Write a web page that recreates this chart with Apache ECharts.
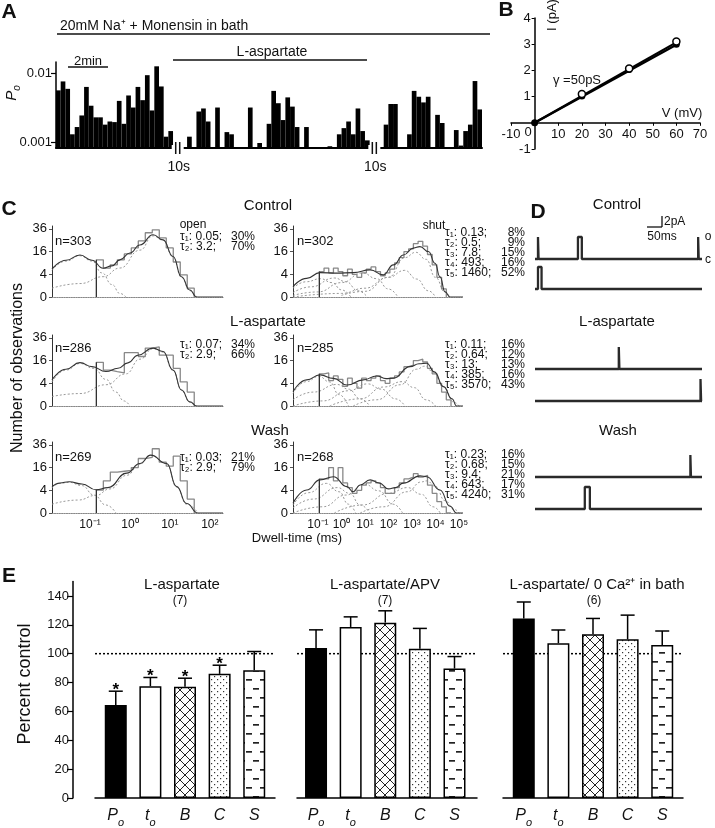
<!DOCTYPE html>
<html>
<head>
<meta charset="utf-8">
<script src="https://cdn.jsdelivr.net/npm/echarts@6.0.0/dist/echarts.min.js"></script>
<style>
html,body{margin:0;padding:0;background:#fff;}
#chart{width:715px;height:828px;}
</style>
</head>
<body>
<div id="chart"></div>
<script>
// ================= DATA =================
// Panel A: open probability in consecutive bins (0 = no opening in bin)
const poSeg1 = [0.0057,0.0077,0.0060,0.0013,0.00166,0.00245,0.0064,0.0034,0.0023,0.0023,0.0018,0.0020,0.00196,0.0040,0.00185,0.0048,0.0032,0.0064,0.0041,0.0095,0.0029,0.0128,0.0065,0.0012,0.00145];
const poSeg2 = [0,0.0012,0,0.0028,0.0031,0.0020,0,0.0032,0,0.0014,0.0013,0,0,0,0.0032,0,0.00097,0,0.00185,0.0056,0.0037,0.0021,0.0045,0.0033,0.00166,0,0.00166,0,0,0,0,0.00087,0,0.0013,0.0016,0.0020,0.0013,0.0031,0.00145,0.00106];
const poSeg3 = [0,0.0018,0.0036,0.0036,0,0,0.0013,0.0056,0.0046,0.0038,0.0046,0,0.0025,0.0019,0,0,0.0015,0.00089,0.00145,0.0018,0.0078,0.0030];
const poBreakBins = 2;
const poAxisMin = 0.00082, poAxisMax = 0.0148;
const poTickValues = [0.001, 0.01];
const poTickLabels = ['0.001', '0.01'];

// Panel B: I-V relation
const ivVoltage = [0, 20, 40, 60];
const ivOpenCurrent = [0, 1.1, 2.07, 3.1];
const ivFilledCurrent = [0, 1.02, 2.03, 3.0];
const ivFitOpenEnd = [60, 3.07];
const ivFitFilledEnd = [60, 2.98];

// Panel C: dwell-time histograms (x = log10 ms, y = count)
const openBinW = 0.175, shutBinW = 0.2;
const ctlOpenStart = -0.84;
const ctlOpenCounts = [10.7,6.5,8,10.7,14.4,18.7,24.4,32,35,27,18.7,9.5,3.8,0.6];
const ctlOpenFit = [[-1.95,6.0],[-1.6,10.5],[-1.25,13.7],[-0.95,10.5],[-0.67,6.4],[-0.45,7.5],[-0.25,10.7],[0.0,15],[0.25,21],[0.58,30],[0.83,25.3],[1.08,12.7],[1.29,3.2],[1.5,0.38],[1.67,0],[2.33,0]];
const ctlOpenC1 = [[-1.95,5.5],[-1.6,10],[-1.25,13.2],[-0.95,10],[-0.7,4.5],[-0.45,1.2],[-0.25,0.1],[-0.1,0]];
const ctlOpenC2 = [[-1.95,0.6],[-1.25,1.4],[-0.67,3.2],[-0.25,6.5],[0.25,17],[0.58,29],[0.83,25],[1.08,12.5],[1.29,3],[1.5,0.3],[1.67,0]];

const laOpenStart = -0.84;
const laOpenCounts = [14.8,10,9.2,8.5,22,22,19,26,27,20,20,11,4.5,1.5];
const laOpenFit = [[-1.95,5.3],[-1.6,10.5],[-1.25,14.6],[-0.95,12],[-0.6,9.2],[-0.3,11],[-0.05,14.4],[0.2,20],[0.58,26],[0.83,23],[1.08,10],[1.29,2],[1.5,0.14],[1.67,0],[2.33,0]];
const laOpenC1 = [[-1.95,4.5],[-1.6,10],[-1.25,14],[-0.9,11],[-0.6,5.5],[-0.35,1.5],[-0.15,0.2],[0,0]];
const laOpenC2 = [[-1.95,0.7],[-1.25,1.2],[-0.6,3.5],[-0.1,8],[0.25,17],[0.58,25.5],[0.83,22.5],[1.08,9.8],[1.29,2],[1.5,0.1],[1.67,0]];

const waOpenStart = -0.84;
const waOpenCounts = [4.1,8,13,13.5,14,16,23,24,32,20,17,25,8,1.5];
const waOpenFit = [[-1.95,5.4],[-1.75,7],[-1.52,7.6],[-1.2,6.5],[-0.85,4.2],[-0.55,5],[-0.08,12.3],[0.25,19],[0.52,26],[0.92,19],[1.17,5.4],[1.42,0.7],[1.7,0],[2.33,0]];
const waOpenC1 = [[-1.95,5],[-1.75,6.8],[-1.52,7.3],[-1.2,5.8],[-0.9,2.5],[-0.6,0.5],[-0.35,0]];
const waOpenC2 = [[-1.95,0.6],[-1.3,1.3],[-0.85,2.4],[-0.5,4.5],[-0.08,11],[0.25,18.5],[0.52,25.7],[0.92,19],[1.17,5.3],[1.42,0.6],[1.7,0]];

const ctlShutStart = -0.94;
const ctlShutCounts = [5,6.5,4.5,6.5,5,3.5,6,4,3,4.5,6,7,5,3.5,4.5,6,9,12,16,18,22,24,20,14,8,3,0.5];
const ctlShutFit = [[-2.06,0.83],[-1.48,2.7],[-0.91,4.6],[-0.2,4.4],[0.51,4.6],[1.22,5.7],[1.78,3.8],[2.21,8],[2.64,13.7],[3.06,18.5],[3.34,19.7],[3.7,16],[3.98,8.8],[4.19,3.2],[4.41,0.2],[4.62,0],[5.17,0]];
const ctlShutComps = [
  [[-2.06,0.6],[-1.5,1.8],[-0.89,2.6],[-0.4,1.6],[0,0.4],[0.4,0]],
  [[-2.06,0.15],[-1.3,0.8],[-0.3,2.8],[0.2,1.8],[0.7,0.3],[1.1,0]],
  [[-2.06,0.02],[-1,0.2],[0,1.6],[0.89,4.5],[1.5,2.6],[2.0,0.5],[2.4,0]],
  [[-2.06,0],[0,0.1],[1,0.6],[2,3],[2.69,5.5],[3.2,2.5],[3.7,0.3],[4,0]],
  [[0,0.02],[1,0.25],[2,3],[2.7,12],[3.16,15.5],[3.6,11],[4,3],[4.4,0.2],[4.6,0]]
];

const laShutStart = -0.94;
const laShutCounts = [8,8.5,5,7,5.5,3,6,4,2.5,6,5,6,7,5,4,6,7,9,12,13,16,17,15,11,8,4,1.5,0.3];
const laShutFit = [[-2.06,1.6],[-1.48,5.3],[-0.91,7.5],[-0.34,5.9],[0.23,3.4],[0.93,5.3],[1.5,7],[1.9,5.8],[2.21,6],[2.92,12],[3.3,13.8],[3.63,14.2],[3.95,9],[4.34,2.9],[4.7,0.4],[4.9,0],[5.17,0]];
const laShutComps = [
  [[-2.06,1.2],[-1.5,4.6],[-0.96,6.8],[-0.5,4.5],[-0.1,1],[0.3,0]],
  [[-2.06,0.3],[-1.2,1.5],[-0.19,3.6],[0.3,2.2],[0.8,0.4],[1.2,0]],
  [[-2.06,0],[-0.8,0.2],[0.3,1.8],[1.11,3.8],[1.7,2.2],[2.3,0.4],[2.7,0]],
  [[-0.5,0],[0.8,0.4],[1.8,2.8],[2.59,4.6],[3.1,2.6],[3.6,0.3],[4,0]],
  [[0.5,0],[1.5,0.3],[2.5,3.5],[3.2,10.5],[3.55,12.3],[3.9,9],[4.34,2.8],[4.8,0.1],[5,0]]
];

const waShutStart = -0.94;
const waShutCounts = [9,9,16,8,16,7,5,3,4,6,7,8,7,5,3,3,5,7,9,10,12,10,11,6,3,1,0.3,0];
const waShutFit = [[-2.06,0.75],[-1.48,4.1],[-0.91,8.5],[-0.34,10.2],[0.23,5.4],[0.5,3.5],[0.8,6.1],[1.22,8.5],[1.6,7],[2.0,4.5],[2.3,5],[2.63,6.9],[3.34,10.7],[3.63,10.2],[4.19,4.1],[4.62,0.35],[4.9,0],[5.17,0]];
const waShutComps = [
  [[-2.06,0.5],[-1.4,3.2],[-0.64,6.8],[-0.1,3.5],[0.3,0.6],[0.6,0]],
  [[-2.06,0.2],[-1.2,1.5],[-0.17,5],[0.35,3],[0.8,0.5],[1.2,0]],
  [[-2.06,0],[-0.8,0.3],[0.2,2.5],[0.97,6.5],[1.6,3.8],[2.2,0.6],[2.6,0]],
  [[-0.3,0],[0.9,0.5],[2,3],[2.81,5],[3.4,2.7],[3.9,0.3],[4.2,0]],
  [[0.8,0],[1.8,0.3],[2.8,3.5],[3.4,7.5],[3.63,8],[4.0,5.5],[4.4,1.2],[4.8,0.1],[5.0,0]]
];
const histYTicks = [0, 4, 16, 36];
const openXTicks = [-1, 0, 1, 2];
const shutXTicks = [-1, 0, 1, 2, 3, 4, 5];

// Panel D: single-channel openings [start ms, end ms]
const traceDuration = 560;
const traceAmp = 4;
const ctlTrace1 = [[10,12],[144,157],[547,549]];
const ctlTrace2 = [[10,22]];
const laTrace1 = [[281,283]];
const laTrace2 = [[555,557]];
const waTrace1 = [[521,523]];
const waTrace2 = [[167,184]];

// Panel E: percent of control (mean, +SEM)
const eCategories = ['Po','to','B','C','S'];
const eLaspMean = [64.4,77.4,77,86,88.5];
const eLaspErr = [9.6,6.1,6,6,13];
const eLaspStar = [1,1,1,1,0];
const eApvMean = [104,118.5,121.5,103.4,89.7];
const eApvErr = [12.5,7,8.2,14.1,8.3];
const eCaMean = [124.4,107.3,113.4,110,106];
const eCaErr = [11.4,9.1,11,16.7,9.7];
const eRefValue = 100;
const eTicks = [0,20,40,60,80,100,120,140];

// ================= BUILD =================
const FONT = '"Liberation Sans", Arial, Helvetica, sans-serif';
const grids = [], xAxes = [], yAxes = [], series = [], G = [];
function addGrid(g, xa, ya) {
  grids.push(g); const i = grids.length - 1;
  xAxes.push(Object.assign({gridIndex: i}, xa));
  yAxes.push(Object.assign({gridIndex: i}, ya));
  return i;
}
function T(x, y, text, size, o = {}) {
  const st = {text, fill: o.color || '#111',
    font: `${o.italic ? 'italic ' : ''}${o.bold ? 'bold ' : ''}${size}px ${FONT}`,
    align: o.align || 'center', verticalAlign: o.va || 'middle',
    textAlign: o.align || 'center', textVerticalAlign: o.va || 'middle'};
  if (o.rich) st.rich = o.rich;
  if (o.lineHeight) st.lineHeight = o.lineHeight;
  G.push({type: 'text', x, y, rotation: o.rot || 0, style: st, z: 50, silent: true});
}
function L(x1, y1, x2, y2, w = 1.5, c = '#111') {
  G.push({type: 'line', shape: {x1, y1, x2, y2}, style: {stroke: c, lineWidth: w}, z: 50, silent: true});
}
function R(x, y, w, h, fill) {
  G.push({type: 'rect', shape: {x, y, width: w, height: h}, style: {fill}, z: 49, silent: true});
}
const noSplit = {show: false};

// ----- Panel A -----
const poGap = new Array(poBreakBins).fill(0);
const poAll = [].concat(poSeg1, poGap, poSeg2, poGap, poSeg3);
const poBase = Math.log10(poAxisMin);
const poTickPos = poTickValues.map(v => Math.log10(v) - poBase);
const A = {left: 56, top: 62, width: 426, height: 86};
const gA = addGrid(A,
  {type: 'category', data: poAll.map((_, i) => i), boundaryGap: true,
   axisLine: {show: true, lineStyle: {color: '#000', width: 2}}, axisTick: {show: false}, axisLabel: {show: false}},
  {type: 'value', min: 0, max: Math.log10(poAxisMax) - poBase, splitLine: noSplit,
   axisLine: {show: true, lineStyle: {color: '#000', width: 1.5}},
   axisTick: {show: true, customValues: poTickPos, length: 5, lineStyle: {color: '#000', width: 1.2}},
   axisLabel: {customValues: poTickPos, fontSize: 13, fontFamily: FONT, color: '#111', margin: 4,
     formatter: v => { let b = 0; poTickPos.forEach((p, i) => { if (Math.abs(p - v) < Math.abs(poTickPos[b] - v)) b = i; }); return poTickLabels[b]; }}});
series.push({type: 'bar', xAxisIndex: gA, yAxisIndex: gA, barCategoryGap: '0%', barWidth: '100%',
  itemStyle: {color: '#000'}, silent: true,
  data: poAll.map(v => v > 0 ? Math.log10(v) - poBase : null)});
// break marks
const binW = A.width / poAll.length;
[poSeg1.length + poBreakBins / 2, poSeg1.length + poBreakBins + poSeg2.length + poBreakBins / 2].forEach(idx => {
  const x = A.left + idx * binW;
  R(x - 6, A.top + A.height - 3, 12, 6, '#fff');
  L(x - 2, A.top + A.height - 6, x - 2, A.top + A.height + 6, 1.5);
  L(x + 2, A.top + A.height - 6, x + 2, A.top + A.height + 6, 1.5);
  T(x + 1, 167, '10s', 14);
});
T(9, 12, 'A', 21, {bold: true});
T(60, 26, '20mM Na⁺ + Monensin in bath', 14, {align: 'left'});
L(57, 34, 490, 34, 1.5);
T(272, 52, 'L-aspartate', 14);
L(173, 60, 367, 60, 1.5);
T(88, 61, '2min', 13);
L(68, 67, 108, 67, 1.5);
T(12, 93, '{p|P}{s|o}', 14, {rot: Math.PI / 2, rich: {
  p: {fontSize: 15, fontStyle: 'italic', fontFamily: FONT, lineHeight: 15, verticalAlign: 'top'},
  s: {fontSize: 10, fontStyle: 'italic', fontFamily: FONT, lineHeight: 10, padding: [8, 0, 0, 0], verticalAlign: 'top'}}});

// ----- Panel B -----
const B = {left: 511, top: 18, width: 189, height: 131, xMin: -10, xMax: 70, yMin: -1, yMax: 4};
const bZeroDy = B.height * (0 - B.yMin) / (B.yMax - B.yMin);
const bZeroDx = B.width * (0 - B.xMin) / (B.xMax - B.xMin);
const gB = addGrid({left: B.left, top: B.top, width: B.width, height: B.height},
  {type: 'value', min: B.xMin, max: B.xMax, interval: 10, splitLine: noSplit, offset: -bZeroDy,
   axisLine: {onZero: false, lineStyle: {color: '#000', width: 1.5}},
   axisTick: {length: 3, lineStyle: {color: '#000'}},
   axisLabel: {fontSize: 13, fontFamily: FONT, color: '#111', margin: 5, formatter: v => v === 0 ? '' : String(v)}},
  {type: 'value', min: B.yMin, max: B.yMax, interval: 1, splitLine: noSplit, offset: -bZeroDx,
   axisLine: {onZero: false, lineStyle: {color: '#000', width: 1.5}},
   axisTick: {length: 3, lineStyle: {color: '#000'}},
   axisLabel: {fontSize: 13, fontFamily: FONT, color: '#111', margin: 4, formatter: v => v === 0 ? '' : String(v)}});
series.push({type: 'line', xAxisIndex: gB, yAxisIndex: gB, data: [[0, 0], ivFitOpenEnd], symbol: 'none', lineStyle: {color: '#000', width: 2.2}, silent: true});
series.push({type: 'line', xAxisIndex: gB, yAxisIndex: gB, data: [[0, 0], ivFitFilledEnd], symbol: 'none', lineStyle: {color: '#000', width: 2.2}, silent: true});
series.push({type: 'scatter', xAxisIndex: gB, yAxisIndex: gB, data: ivVoltage.map((v, i) => [v, ivFilledCurrent[i]]), symbolSize: 7, itemStyle: {color: '#000', opacity: 1}, silent: true, z: 3});
series.push({type: 'scatter', xAxisIndex: gB, yAxisIndex: gB, data: ivVoltage.map((v, i) => [v, ivOpenCurrent[i]]).filter(p => p[0] > 0), symbolSize: 7, itemStyle: {color: '#fff', borderColor: '#000', borderWidth: 1.5, opacity: 1}, silent: true, z: 4});
T(506, 10, 'B', 21, {bold: true});
T(552, 15, 'I (pA)', 13, {rot: Math.PI / 2});
T(682, 113, 'V (mV)', 13);
T(577, 80, 'γ =50pS', 13);
T(528, 132, '0', 13);

// ----- Panel C -----
const sq = v => Math.sqrt(Math.max(0, v));
const rowTop = [226, 335, 442];
const histH = 71, histYMax = 6.25;
const openBox = {left: 52, width: 171, min: -1.95, max: 2.33};
const shutBox = {left: 293, width: 170, min: -2.06, max: 5.17};
const supMap = {'-1': '10⁻¹', '0': '10⁰', '1': '10¹', '2': '10²', '3': '10³', '4': '10⁴', '5': '10⁵'};
const hists = [
  {row: 0, box: openBox, binW: openBinW, start: ctlOpenStart, counts: ctlOpenCounts, fit: ctlOpenFit, comps: [ctlOpenC1, ctlOpenC2], ticks: openXTicks},
  {row: 0, box: shutBox, binW: shutBinW, start: ctlShutStart, counts: ctlShutCounts, fit: ctlShutFit, comps: ctlShutComps, ticks: shutXTicks},
  {row: 1, box: openBox, binW: openBinW, start: laOpenStart, counts: laOpenCounts, fit: laOpenFit, comps: [laOpenC1, laOpenC2], ticks: openXTicks},
  {row: 1, box: shutBox, binW: shutBinW, start: laShutStart, counts: laShutCounts, fit: laShutFit, comps: laShutComps, ticks: shutXTicks},
  {row: 2, box: openBox, binW: openBinW, start: waOpenStart, counts: waOpenCounts, fit: waOpenFit, comps: [waOpenC1, waOpenC2], ticks: openXTicks},
  {row: 2, box: shutBox, binW: shutBinW, start: waShutStart, counts: waShutCounts, fit: waShutFit, comps: waShutComps, ticks: shutXTicks}
];
const yTickPos = histYTicks.map(sq);
hists.forEach(h => {
  const bottomRow = h.row === 2;
  const gi = addGrid({left: h.box.left, width: h.box.width, top: rowTop[h.row], height: histH},
    {type: 'value', min: h.box.min, max: h.box.max, splitLine: noSplit,
     axisLine: {show: true, onZero: false, lineStyle: {color: '#888', width: 1.2, type: 'dotted'}},
     axisTick: {show: false},
     axisLabel: {show: bottomRow, customValues: h.ticks, fontSize: 12, fontFamily: FONT, color: '#111', margin: 6,
       formatter: v => supMap[String(Math.round(v))]}},
    {type: 'value', min: 0, max: histYMax, splitLine: noSplit,
     axisLine: {show: true, onZero: false, lineStyle: {color: '#333', width: 1}},
     axisTick: {show: true, customValues: yTickPos, length: 3, lineStyle: {color: '#555'}},
     axisLabel: {customValues: yTickPos, fontSize: 13, fontFamily: FONT, color: '#111', margin: 5,
       formatter: v => String(Math.round(v * v))}});
  const hd = [[h.start, 0]];
  h.counts.forEach((c, i) => hd.push([h.start + i * h.binW, sq(c)]));
  hd.push([h.start + h.counts.length * h.binW, 0]);
  h.comps.forEach(c => series.push({type: 'line', xAxisIndex: gi, yAxisIndex: gi, smooth: 0.5, smoothMonotone: 'x', symbol: 'none', silent: true,
    lineStyle: {color: '#999', width: 1, type: [2, 2]}, data: c.map(p => [p[0], sq(p[1])]), z: 2}));
  series.push({type: 'line', xAxisIndex: gi, yAxisIndex: gi, step: 'end', symbol: 'none', silent: true,
    lineStyle: {color: '#888', width: 1.3}, data: hd, z: 3});
  series.push({type: 'line', xAxisIndex: gi, yAxisIndex: gi, symbol: 'none', silent: true,
    lineStyle: {color: '#222', width: 1}, data: [[h.start, 0], [h.start, sq(h.counts[0])]], z: 4});
  series.push({type: 'line', xAxisIndex: gi, yAxisIndex: gi, smooth: 0.5, smoothMonotone: 'x', symbol: 'none', silent: true,
    lineStyle: {color: '#333', width: 1.1}, data: h.fit.map(p => [p[0], sq(p[1])]), z: 5});
});
T(9, 209, 'C', 21, {bold: true});
T(268, 206, 'Control', 15);
T(268, 322, 'L-aspartate', 15);
T(270, 431, 'Wash', 15);
const nLabels = [['n=303', 'n=302'], ['n=286', 'n=285'], ['n=269', 'n=268']];
const nY = [241, 348, 457];
nLabels.forEach((p, r) => { T(55, nY[r], p[0], 13, {align: 'left'}); T(297, nY[r], p[1], 13, {align: 'left'}); });
T(193, 225, 'open', 12);
T(434, 226, 'shut', 12);
const openTau = [['τ₁: 0.05;\nτ₂: 3.2;', '30%\n70%'], ['τ₁: 0.07;\nτ₂: 2.9;', '34%\n66%'], ['τ₁: 0.03;\nτ₂: 2.9;', '21%\n79%']];
const openTauTop = [232, 340, 453];
openTau.forEach((t, r) => { T(180, openTauTop[r], t[0], 12, {align: 'left', va: 'top', lineHeight: 10}); T(255, openTauTop[r], t[1], 12, {align: 'right', va: 'top', lineHeight: 10}); });
const shutTau = [
  ['τ₁: 0.13;\nτ₂: 0.5;\nτ₃: 7.8;\nτ₄: 493;\nτ₅: 1460;', '8%\n9%\n15%\n16%\n52%'],
  ['τ₁: 0.11;\nτ₂: 0.64;\nτ₃: 13;\nτ₄: 385;\nτ₅: 3570;', '16%\n12%\n13%\n16%\n43%'],
  ['τ₁: 0.23;\nτ₂: 0.68;\nτ₃: 9.4;\nτ₄: 643;\nτ₅: 4240;', '16%\n15%\n21%\n17%\n31%']];
const shutTauTop = [228, 340, 450];
shutTau.forEach((t, r) => { T(445, shutTauTop[r], t[0], 12, {align: 'left', va: 'top', lineHeight: 10}); T(525, shutTauTop[r], t[1], 12, {align: 'right', va: 'top', lineHeight: 10}); });
T(18, 368, 'Number of observations', 16, {rot: Math.PI / 2});
T(297, 538, 'Dwell-time (ms)', 13);

// ----- Panel D -----
const D = {left: 535, top: 225, width: 167, height: 290};
const dPxPerPA = 5.5;
const traceBaselinePx = [259, 289, 369, 401, 477, 509];
const traces = [ctlTrace1, ctlTrace2, laTrace1, laTrace2, waTrace1, waTrace2];
const dYMax = D.height / dPxPerPA;
const gD = addGrid(D, {type: 'value', min: 0, max: traceDuration, show: false}, {type: 'value', min: 0, max: dYMax, show: false});
traces.forEach((ev, k) => {
  const off = (D.top + D.height - traceBaselinePx[k]) / dPxPerPA;
  const pts = [[0, off]];
  ev.forEach(e => { pts.push([e[0], off], [e[0], off + traceAmp], [e[1], off + traceAmp], [e[1], off]); });
  pts.push([traceDuration, off]);
  series.push({type: 'line', xAxisIndex: gD, yAxisIndex: gD, data: pts, symbol: 'none', silent: true, lineStyle: {color: '#2a2a2a', width: 2.3}});
});
T(538, 212, 'D', 21, {bold: true});
T(617, 205, 'Control', 15);
T(617, 322, 'L-aspartate', 15);
T(618, 431, 'Wash', 15);
L(647, 227, 662, 227, 1.3);
L(662, 216, 662, 227, 1.3);
T(664, 222, '2pA', 12, {align: 'left'});
T(662, 237, '50ms', 12);
T(708, 237, 'o', 12);
T(708, 260, 'c', 12);

// ----- Panel E -----
function makePattern(kind) {
  const c = document.createElement('canvas');
  const ctx = c.getContext('2d');
  if (kind === 'cross') {
    c.width = 10; c.height = 10;
    ctx.fillStyle = '#fff'; ctx.fillRect(0, 0, 10, 10);
    ctx.strokeStyle = '#222'; ctx.lineWidth = 1;
    ctx.beginPath();
    [-10, 0, 10].forEach(o => { ctx.moveTo(o, 0); ctx.lineTo(o + 10, 10); ctx.moveTo(o + 10, 0); ctx.lineTo(o, 10); });
    ctx.stroke();
  } else if (kind === 'dots') {
    c.width = 6; c.height = 6;
    ctx.fillStyle = '#fff'; ctx.fillRect(0, 0, 6, 6);
    ctx.fillStyle = '#333'; ctx.fillRect(1, 1, 1.2, 1.2); ctx.fillRect(4, 4, 1.2, 1.2);
  } else if (kind === 'dash') {
    c.width = 14; c.height = 18;
    ctx.fillStyle = '#fff'; ctx.fillRect(0, 0, 14, 18);
    ctx.fillStyle = '#222'; ctx.fillRect(1, 4, 6, 1.7); ctx.fillRect(8, 13, 6, 1.7);
  }
  return {image: c, repeat: 'repeat'};
}
const eFills = ['#000', '#fff', makePattern('cross'), makePattern('dots'), makePattern('dash')];
const eCatRich = {
  i: {fontSize: 16, fontStyle: 'italic', fontFamily: FONT, color: '#111', lineHeight: 16, verticalAlign: 'top'},
  s: {fontSize: 11, fontStyle: 'italic', fontFamily: FONT, color: '#111', lineHeight: 11, padding: [9, 0, 0, 0], verticalAlign: 'top'}
};
const eCatText = c => c.length === 2 ? `{i|${c[0]}}{s|${c[1]}}` : `{i|${c}}`;
const ePanels = [
  {left: 95, min: -0.6, mean: eLaspMean, err: eLaspErr, star: eLaspStar, axis: true},
  {left: 297, min: -0.55, mean: eApvMean, err: eApvErr, star: [0, 0, 0, 0, 0], axis: false},
  {left: 503, min: -0.6, mean: eCaMean, err: eCaErr, star: [0, 0, 0, 0, 0], axis: false}
];
const eSpan = 5.2;
ePanels.forEach(p => {
  const gi = addGrid({left: p.left, width: 180, top: 581.5, height: 218.5},
    {type: 'value', min: p.min, max: p.min + eSpan, splitLine: noSplit,
     axisLine: {show: true, onZero: false, lineStyle: {color: '#000', width: 1.5}}, axisTick: {show: false},
     axisLabel: {customValues: [0, 1, 2, 3, 4], margin: 10, formatter: v => eCatText(eCategories[Math.round(v)]), rich: eCatRich}},
    {type: 'value', min: 0, max: 150, splitLine: noSplit, show: p.axis, offset: 22,
     axisLine: {show: true, onZero: false, lineStyle: {color: '#000', width: 1.5}},
     axisTick: {show: true, customValues: eTicks, length: 6, lineStyle: {color: '#000', width: 1.2}},
     axisLabel: {customValues: eTicks, fontSize: 13, fontFamily: FONT, color: '#111', margin: 4}});
  series.push({type: 'line', xAxisIndex: gi, yAxisIndex: gi, data: [[p.min, eRefValue], [p.min + eSpan, eRefValue]], symbol: 'none', silent: true,
    lineStyle: {color: '#000', width: 1.5, type: [2, 2]}, z: 1});
  series.push({type: 'bar', xAxisIndex: gi, yAxisIndex: gi, barWidth: 22, silent: true, z: 2,
    data: p.mean.map((m, i) => ({value: [i, m], itemStyle: {color: eFills[i], borderColor: '#000', borderWidth: 1.5}}))});
  series.push({type: 'custom', xAxisIndex: gi, yAxisIndex: gi, silent: true, z: 3,
    data: p.mean.map((m, i) => [i, m, p.err[i], p.star[i]]),
    renderItem: (params, api) => {
      const x = api.value(0), m = api.value(1), e = api.value(2), st = api.value(3);
      const p0 = api.coord([x, m]), p1 = api.coord([x, m + e]);
      const ch = [
        {type: 'line', shape: {x1: p0[0], y1: p0[1], x2: p1[0], y2: p1[1]}, style: {stroke: '#000', lineWidth: 1.5}},
        {type: 'line', shape: {x1: p1[0] - 7, y1: p1[1], x2: p1[0] + 7, y2: p1[1]}, style: {stroke: '#000', lineWidth: 1.5}}
      ];
      if (st) ch.push({type: 'text', x: p1[0], y: p1[1] - 1, style: {text: '*', font: `bold 17px ${FONT}`, fill: '#000', align: 'center', verticalAlign: 'middle', textAlign: 'center', textVerticalAlign: 'middle'}});
      return {type: 'group', children: ch};
    }});
});
T(9, 576, 'E', 21, {bold: true});
T(182, 585, 'L-aspartate', 15);
T(180, 601, '(7)', 12);
T(385, 585, 'L-aspartate/APV', 15);
T(385, 601, '(7)', 12);
T(597, 585, 'L-aspartate/ 0 Ca²⁺ in bath', 15);
T(594, 601, '(6)', 12);
T(25, 684, 'Percent control', 18, {rot: Math.PI / 2});

const chart = echarts.init(document.getElementById('chart'), null, {renderer: 'canvas'});
chart.setOption({
  animation: false, backgroundColor: '#fff',
  textStyle: {fontFamily: FONT},
  grid: grids, xAxis: xAxes, yAxis: yAxes, series, graphic: G
});
</script>
</body>
</html>
